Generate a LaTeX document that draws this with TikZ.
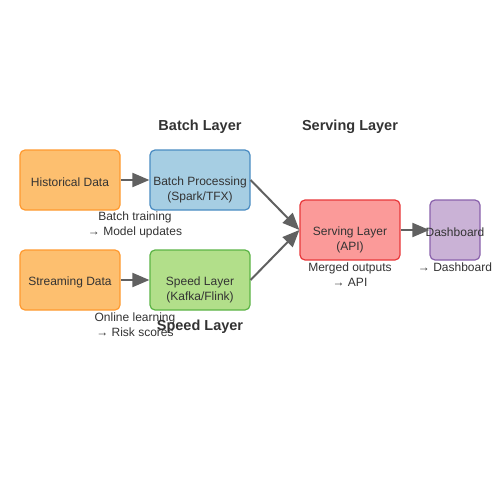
\documentclass[tikz,border=0pt]{standalone}
\usepackage{fontspec}
\setmainfont{Liberation Sans}
\usetikzlibrary{arrows.meta, positioning}

\definecolor{txtgray}{HTML}{333333}
\definecolor{arrgray}{HTML}{616161}
\definecolor{orangefill}{HTML}{FDBF6F}
\definecolor{orangeline}{HTML}{FF9A30}
\definecolor{bluefill}{HTML}{A6CEE3}
\definecolor{blueline}{HTML}{4A8CC2}
\definecolor{greenfill}{HTML}{B2DF8A}
\definecolor{greenline}{HTML}{5CB446}
\definecolor{redfill}{HTML}{FB9A99}
\definecolor{redline}{HTML}{E8383B}
\definecolor{purplefill}{HTML}{CAB2D6}
\definecolor{purpleline}{HTML}{8A62AC}

\begin{document}
\begin{tikzpicture}[x=1pt, y=-1pt,
  box/.style = {draw, line width = 1.2pt, rounded corners = 5pt, minimum height = 60pt, inner sep = 0pt},
  txt/.style = {text = txtgray, align = center, inner sep = 0pt, font = \fontsize{12}{15}\selectfont},
  title/.style = {text = txtgray, inner sep = 0pt, font = \fontsize{14.5}{17}\selectfont\bfseries},
  flow/.style = {draw = arrgray, line width = 2pt, -{Triangle[length=17pt, width=14pt]}}]

\useasboundingbox (0,0) rectangle (500,500);

% layer titles
\node (tbatch) at (200,127) [title] {Batch Layer};
\node (tserve) at (350,127) [title] {Serving Layer};

% boxes
\node (hist) at (70,180) [box, fill = orangefill, draw = orangeline, minimum width = 100pt] {};
\node (batch) at (200,180) [box, fill = bluefill, draw = blueline, minimum width = 100pt] {};
\node (stream) at (70,280) [box, fill = orangefill, draw = orangeline, minimum width = 100pt] {};
\node (speed) at (200,280) [box, fill = greenfill, draw = greenline, minimum width = 100pt] {};
\node (serve) at (350,230) [box, fill = redfill, draw = redline, minimum width = 100pt] {};
\node (dash) at (455,230) [box, fill = purplefill, draw = purpleline, minimum width = 50pt] {};

% box texts
\node (histtxt) at (70,182) [txt] {Historical Data};
\node (batchtxt) at (200,190) [txt] {Batch Processing\\(Spark/TFX)};
\node (streamtxt) at (70,282) [txt] {Streaming Data};
\node (speedtxt) at (200,290) [txt] {Speed Layer\\(Kafka/Flink)};
\node (servetxt) at (350,240) [txt] {Serving Layer\\(API)};
\node (dashtxt) at (455,232) [txt] {Dashboard};

% connectors
\draw [flow] (hist.east) -- (batch.west);
\draw [flow] (stream.east) -- (speed.west);
\draw [flow] (batch.east) -- (serve.west);
\draw [flow] (speed.east) -- (serve.west);
\draw [flow] (serve.east) -- (dash.west);

% notes
\node (nbatch) at (135,225) [txt] {Batch training\\→ Model updates};
\node (nspeed) at (135,325) [txt] {Online learning\\→ Risk scores};
\node (nserve) at (350,275) [txt] {Merged outputs\\→ API};
\node (ndash) at (455,267.5) [txt] {→ Dashboard};

\node (tspeed) at (200,327) [title] {Speed Layer};

\end{tikzpicture}
\end{document}
